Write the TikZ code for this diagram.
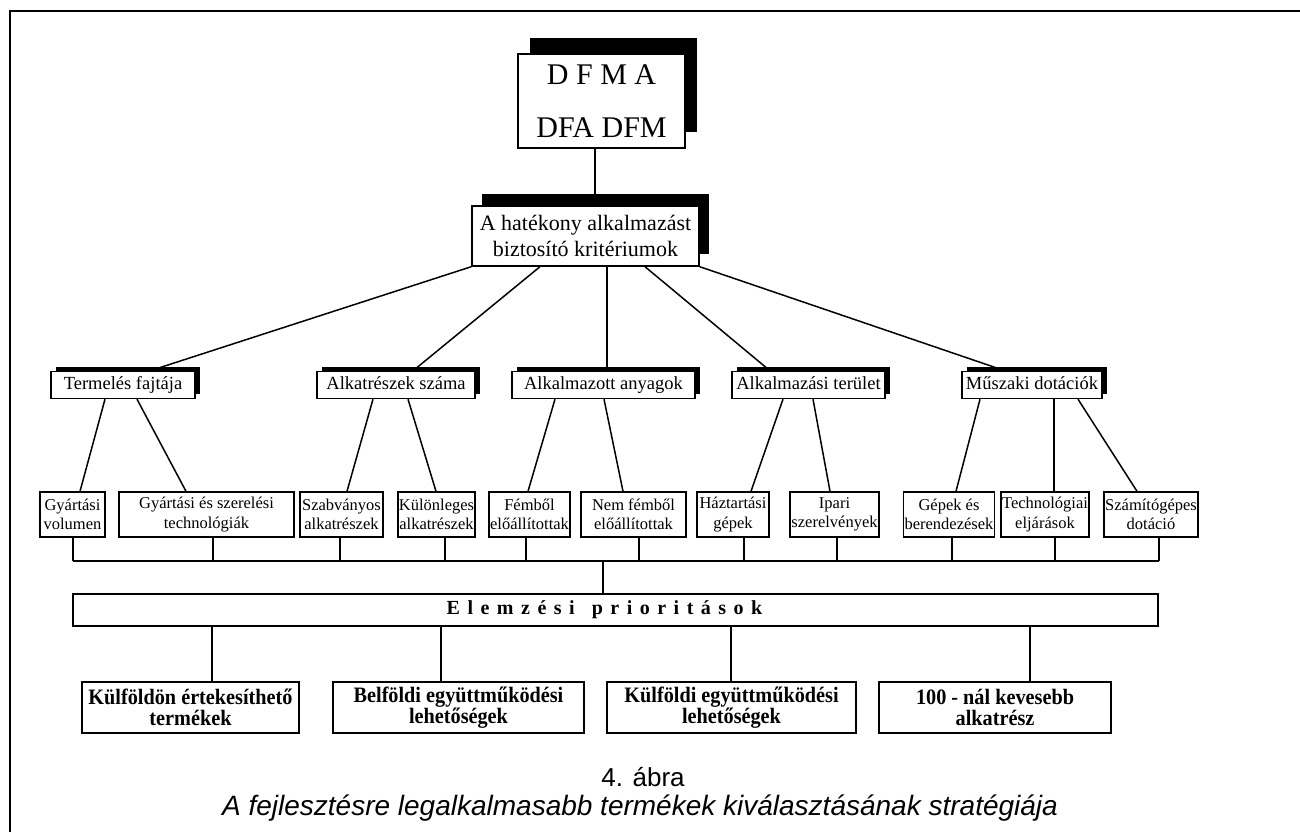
\documentclass[tikz,border=0pt]{standalone}
\usepackage{fontspec}
\setmainfont{Liberation Serif}
\newfontfamily\capfont{Liberation Sans}
\newfontfamily\condfont[FakeStretch=0.92]{Liberation Serif}
\usetikzlibrary{shadows}
\tikzset{x=1pt,y=-1pt,
  box/.style={draw,fill=white,line width=1.4pt,inner sep=1pt,align=center},
  bigshade/.style={general shadow={fill=black,shadow xshift=12pt,shadow yshift=16pt}},
  midshade/.style={general shadow={fill=black,shadow xshift=10pt,shadow yshift=12pt}},
  smallshade/.style={general shadow={fill=black,shadow xshift=5pt,shadow yshift=5pt}},
  cat/.style={box,smallshade,minimum height=27pt,text height=13pt,text depth=4.5pt,font=\fontsize{18.5}{22}\selectfont},
  sec/.style={box,minimum height=45pt,font=\fontsize{16.5}{19.5}\selectfont},
  prio/.style={box,line width=2.4pt,minimum height=51pt,font=\condfont\bfseries\fontsize{22}{21}\selectfont},
  link/.style={line width=1.5pt}}

\begin{document}
\begin{tikzpicture}
\useasboundingbox (0,0) rectangle (1300,832);
\draw[line width=1.6pt] (10,832) -- (10,11) -- (1300,11);
\node[box,bigshade,minimum width=167pt,minimum height=94pt,font=\fontsize{30}{53}\selectfont] (dfma) at (601.5,101) {D F M A\\DFA DFM};
\node[box,midshade,minimum width=227pt,minimum height=60pt,font=\fontsize{22}{26}\selectfont] (crit) at (585.5,236) {A hatékony alkalmazást\\biztosító kritériumok};
\draw[link] (dfma.south -| 595,0) -- (crit.north -| 595,0);

\node[cat,minimum width=144pt] (termel) at (123,385) {Termelés fajtája};
\node[cat,minimum width=158pt] (alkresz) at (396,385) {Alkatrészek száma};
\node[cat,minimum width=183pt] (anyag) at (603.5,385) {Alkalmazott anyagok};
\node[cat,minimum width=153pt] (terulet) at (808.5,385) {Alkalmazási terület};
\node[cat,minimum width=140pt] (muszaki) at (1032,385) {Műszaki dotációk};
\draw[link] (crit.south west) -- (termel.north -| 150,0);
\draw[link] (crit.south -| 540,0) -- (alkresz.north -| 413,0);
\draw[link] (crit.south -| 607,0) -- (anyag.north -| 607,0);
\draw[link] (crit.south -| 645,0) -- (terulet.north -| 770,0);
\draw[link] (crit.south east) -- (muszaki.north -| 1005,0);

\node[sec,minimum width=65pt] (volumen) at (72.5,514.5) {Gyártási\\volumen};
\node[sec,minimum width=175pt] (techn) at (206.5,514.5) {Gyártási és szerelési\\technológiák};
\node[sec,minimum width=83pt] (szabv) at (341.5,514.5) {Szabványos\\alkatrészek};
\node[sec,minimum width=77pt] (kulonl) at (436.5,514.5) {Különleges\\alkatrészek};
\node[sec,minimum width=79pt] (fembol) at (529.5,514.5) {Fémből\\előállítottak};
\node[sec,minimum width=105pt] (nemfem) at (633.5,514.5) {Nem fémből\\előállítottak};
\node[sec,minimum width=72pt] (haztart) at (733,514.5) {Háztartási\\gépek};
\node[sec,minimum width=89pt] (ipari) at (834.5,514.5) {Ipari\\szerelvények};
\node[sec,minimum width=88pt] (gepek) at (949,514.5) {Gépek és\\berendezések};
\node[sec,minimum width=78pt] (technol) at (1045,514.5) {Technológiai\\eljárások};
\node[sec,minimum width=84pt] (szamit) at (1151,514.5) {Számítógépes\\dotáció};
\draw[link] (termel.south -| 105,0) -- (volumen.north -| 80,0);
\draw[link] (termel.south -| 137,0) -- (techn.north -| 186,0);
\draw[link] (alkresz.south -| 373,0) -- (szabv.north -| 347,0);
\draw[link] (alkresz.south -| 408,0) -- (kulonl.north -| 436,0);
\draw[link] (anyag.south -| 555,0) -- (fembol.north -| 528,0);
\draw[link] (anyag.south -| 604,0) -- (nemfem.north -| 623,0);
\draw[link] (terulet.south -| 783,0) -- (haztart.north -| 751,0);
\draw[link] (terulet.south -| 813,0) -- (ipari.north -| 830,0);
\draw[link] (muszaki.south -| 980,0) -- (gepek.north -| 956,0);
\draw[link] (muszaki.south -| 1054,0) -- (technol.north -| 1054,0);
\draw[link] (muszaki.south -| 1078,0) -- (szamit.north -| 1137,0);

\coordinate (busL) at (73,561);
\coordinate (busR) at (1159,561);
\draw[link] (busL) -- (busR);
\draw[link] (volumen.south -| busL) -- (busL);
\draw[link] (techn.south -| 213,0) -- (busL -| 213,0);
\draw[link] (szabv.south -| 340,0) -- (busL -| 340,0);
\draw[link] (kulonl.south -| 445,0) -- (busL -| 445,0);
\draw[link] (fembol.south -| 526,0) -- (busL -| 526,0);
\draw[link] (nemfem.south -| 639,0) -- (busL -| 639,0);
\draw[link] (haztart.south -| 744,0) -- (busL -| 744,0);
\draw[link] (ipari.south -| 837,0) -- (busL -| 837,0);
\draw[link] (gepek.south -| 952,0) -- (busL -| 952,0);
\draw[link] (technol.south -| 1055,0) -- (busL -| 1055,0);
\draw[link] (szamit.south -| busR) -- (busR);

\node[box,line width=2.4pt,minimum width=1085pt,minimum height=32pt,font=\bfseries\fontsize{20}{24}\selectfont] (elem) at (615.5,610) {\spaceskip=7.5pt\relax E l e m z é s i\hspace{17pt}p r i o r i t á s o k\hspace*{22pt}};
\draw[link] (busL -| 603,0) -- (elem.north -| 603,0);

\node[prio,minimum width=217pt] (kulfon) at (190.5,707.5) {Külföldön értekesíthető\\termékek};
\node[prio,minimum width=251pt] (belfold) at (458.5,707.5) {Belföldi együttműködési\\lehetőségek};
\node[prio,minimum width=249pt] (kulfold) at (731.5,707.5) {Külföldi együttműködési\\lehetőségek};
\node[prio,minimum width=232pt] (szaz) at (995,707.5) {100 - nál kevesebb\\alkatrész};
\draw[link] (elem.south -| 212,0) -- (kulfon.north -| 212,0);
\draw[link] (elem.south -| 441,0) -- (belfold.north -| 441,0);
\draw[link] (elem.south -| 731,0) -- (kulfold.north -| 731,0);
\draw[link] (elem.south -| 1030,0) -- (szaz.north -| 1030,0);

\node[font=\capfont\fontsize{26}{30}\selectfont] (abra) at (643,777) {4. ábra};
\node[font=\capfont\itshape\fontsize{28}{32}\selectfont] (cim) at (640,808) {A fejlesztésre legalkalmasabb termékek kiválasztásának stratégiája};
\end{tikzpicture}
\end{document}
